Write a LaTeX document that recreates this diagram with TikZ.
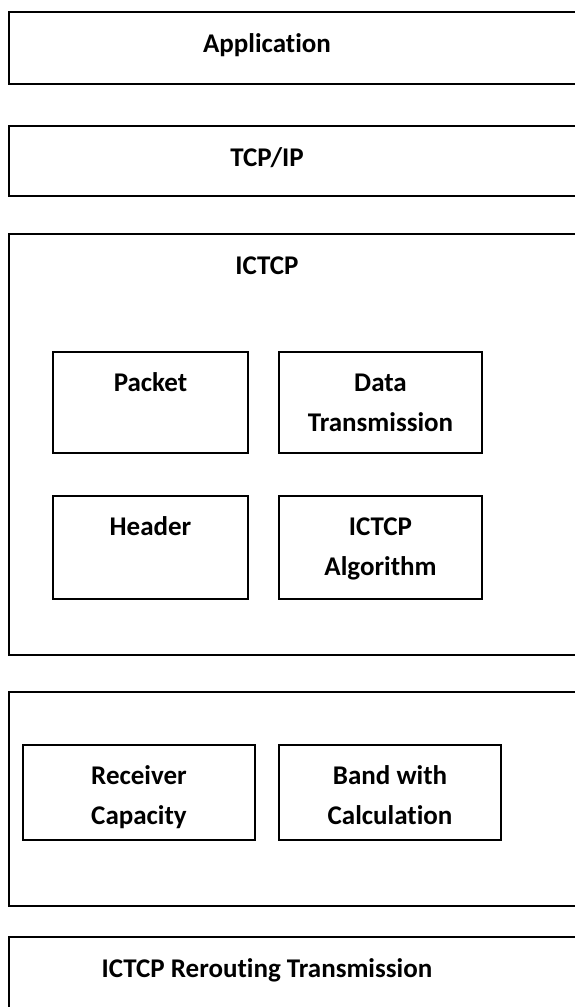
\documentclass[tikz,border=0pt]{standalone}
\usepackage{fontspec}
\setmainfont{Carlito}[Ligatures=NoCommon]
\usetikzlibrary{positioning,calc}

\begin{document}
\begin{tikzpicture}[x=1pt,y=-1pt,
    frame/.style={draw=black,line width=2.4pt},
    cell/.style={draw=black,line width=1.7pt,minimum width=#1,minimum height=96pt,inner sep=0pt},
    lbl/.style={anchor=base,align=center,inner sep=0pt,font=\bfseries\fontsize{27}{40}\selectfont}]
  \useasboundingbox (0,0) rectangle (575,1007);
  \clip (0,0) rectangle (575,1007);
  % layers
  \draw[frame] (9,12) rectangle (620,84);
  \draw[frame] (9,126) rectangle (620,196);
  \draw[frame] (9,234) rectangle (620,655);
  \draw[frame] (9,692) rectangle (620,906);
  \draw[frame] (9,937) rectangle (620,1040);
  \node[lbl] (app) at (267,52) {Application};
  \node[lbl] (tcp) at (267,166) {TCP/IP};
  \node[lbl] (ictcp) at (267,274) {ICTCP};
  \node[lbl] (rer) at (267,977) {ICTCP Rerouting Transmission};
  % inner boxes
  \node[cell=195pt,minimum height=101pt] (pkt) at (150.5,402.5) {};
  \node[cell=203pt,minimum height=101pt] (dat) at (380.5,402.5) {};
  \node[cell=195pt,minimum height=103pt] (hdr) at (150.5,547.5) {};
  \node[cell=203pt,minimum height=103pt] (alg) at (380.5,547.5) {};
  \node[cell=232pt,minimum height=95pt] (rcv) at (139,792.5) {};
  \node[cell=222pt,minimum height=95pt] (bwc) at (390,792.5) {};
  % base is the last line, so two-line labels sit 40pt lower
  \node[lbl] (pkt-t) at ([yshift=-40pt]pkt.north) {Packet};
  \node[lbl] (dat-t) at ([yshift=-80pt]dat.north) {Data\\Transmission};
  \node[lbl] (hdr-t) at ([yshift=-40pt]hdr.north) {Header};
  \node[lbl] (alg-t) at ([yshift=-80pt]alg.north) {ICTCP\\Algorithm};
  \node[lbl] (rcv-t) at ([yshift=-80pt]rcv.north) {Receiver\\Capacity};
  \node[lbl] (bwc-t) at ([yshift=-80pt]bwc.north) {Band with\\Calculation};
\end{tikzpicture}
\end{document}
